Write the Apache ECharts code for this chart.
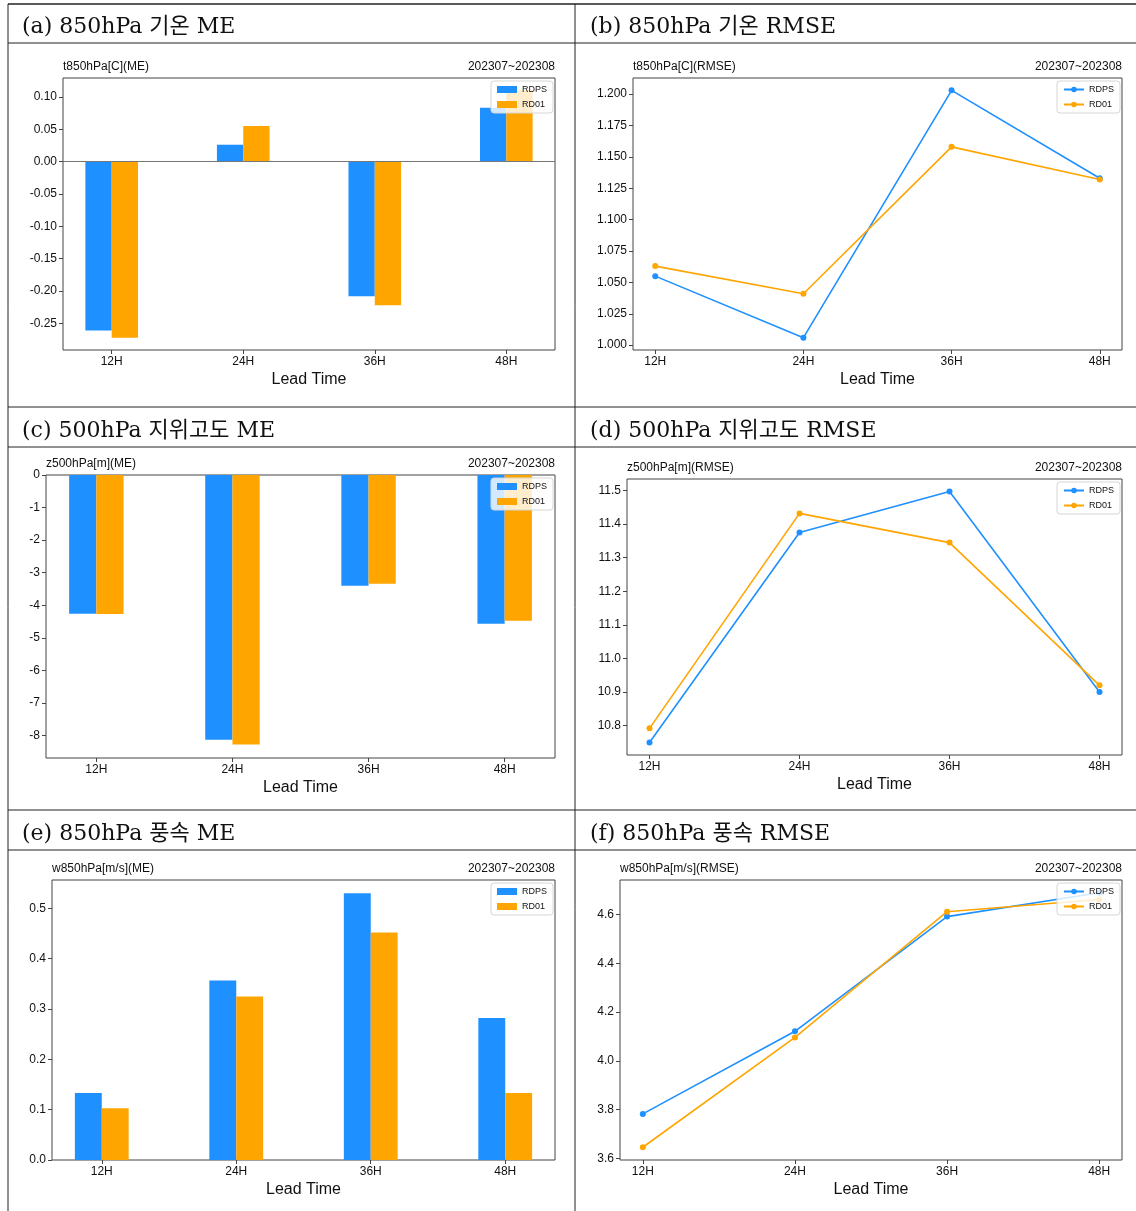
<!DOCTYPE html>
<html>
<head>
<meta charset="utf-8">
<title>RDPS / RD01 검증</title>
<script src="https://cdn.jsdelivr.net/npm/echarts@6/dist/echarts.min.js"></script>
<style>
  html, body { margin: 0; padding: 0; background: #fff; }
  #chart { width: 1136px; height: 1211px; }
</style>
</head>
<body>
<div id="chart"></div>
<script>
// Lead times (x positions 0..3)
const leadTimes = ['12H', '24H', '36H', '48H'];
const leadPos = [0, 1, 2, 3];

// (a) 850hPa temperature ME
const t850MeRdps = [-0.261, 0.026, -0.208, 0.083];
const t850MeRd01 = [-0.272, 0.055, -0.222, 0.110];
const t850MeTicks = [-0.25, -0.20, -0.15, -0.10, -0.05, 0.00, 0.05, 0.10];

// (b) 850hPa temperature RMSE
const t850RmseRdps = [1.055, 1.006, 1.203, 1.133];
const t850RmseRd01 = [1.063, 1.041, 1.158, 1.132];
const t850RmseTicks = [1.000, 1.025, 1.050, 1.075, 1.100, 1.125, 1.150, 1.175, 1.200];

// (c) 500hPa geopotential height ME
const z500MeRdps = [-4.26, -8.13, -3.40, -4.57];
const z500MeRd01 = [-4.27, -8.28, -3.34, -4.48];
const z500MeTicks = [-8, -7, -6, -5, -4, -3, -2, -1, 0];

// (d) 500hPa geopotential height RMSE
const z500RmseRdps = [10.750, 11.375, 11.497, 10.900];
const z500RmseRd01 = [10.792, 11.432, 11.345, 10.920];
const z500RmseTicks = [10.8, 10.9, 11.0, 11.1, 11.2, 11.3, 11.4, 11.5];

// (e) 850hPa wind speed ME
const w850MeRdps = [0.133, 0.357, 0.530, 0.282];
const w850MeRd01 = [0.103, 0.325, 0.452, 0.133];
const w850MeTicks = [0.0, 0.1, 0.2, 0.3, 0.4, 0.5];

// (f) 850hPa wind speed RMSE
const w850RmseRdps = [3.782, 4.121, 4.592, 4.690];
const w850RmseRd01 = [3.645, 4.096, 4.612, 4.662];
const w850RmseTicks = [3.6, 3.8, 4.0, 4.2, 4.4, 4.6];

const period = '202307~202308';
const seriesNames = ['RDPS', 'RD01'];
const colors = ['#1e90ff', '#ffa500'];

const FONT = '"Liberation Sans", Arial, Helvetica, sans-serif';
const HEAD_FONT = '22px "DejaVu Serif", "Liberation Serif", "Noto Sans CJK KR", serif';

// panel descriptions: kind, title, data, ticks, decimals, grid box, header
const panels = [
  { key: 'a', kind: 'bar',  title: 't850hPa[C](ME)',    rdps: t850MeRdps,   rd01: t850MeRd01,   ticks: t850MeTicks,   dec: 2,
    box: [63, 78, 492, 272],  head: '(a) 850hPa 기온 ME',       headPos: [22, 24] },
  { key: 'b', kind: 'line', title: 't850hPa[C](RMSE)',  rdps: t850RmseRdps, rd01: t850RmseRd01, ticks: t850RmseTicks, dec: 3,
    box: [633, 78, 489, 272], head: '(b) 850hPa 기온 RMSE',     headPos: [590, 24] },
  { key: 'c', kind: 'bar',  title: 'z500hPa[m](ME)',    rdps: z500MeRdps,   rd01: z500MeRd01,   ticks: z500MeTicks,   dec: 0,
    box: [46, 475, 509, 283], head: '(c) 500hPa 지위고도 ME',   headPos: [22, 428] },
  { key: 'd', kind: 'line', title: 'z500hPa[m](RMSE)',  rdps: z500RmseRdps, rd01: z500RmseRd01, ticks: z500RmseTicks, dec: 1,
    box: [627, 479, 495, 276], head: '(d) 500hPa 지위고도 RMSE', headPos: [590, 428] },
  { key: 'e', kind: 'bar',  title: 'w850hPa[m/s](ME)',  rdps: w850MeRdps,   rd01: w850MeRd01,   ticks: w850MeTicks,   dec: 1,
    box: [52, 880, 503, 280], head: '(e) 850hPa 풍속 ME',       headPos: [22, 831] },
  { key: 'f', kind: 'line', title: 'w850hPa[m/s](RMSE)', rdps: w850RmseRdps, rd01: w850RmseRd01, ticks: w850RmseTicks, dec: 1,
    box: [620, 880, 502, 280], head: '(f) 850hPa 풍속 RMSE',     headPos: [590, 831] }
];

const W = 1136;

// Axis limits with 5% padding; bar charts stick to the zero baseline
function limits(p) {
  const all = p.rdps.concat(p.rd01);
  let lo = Math.min(...all), hi = Math.max(...all);
  if (p.kind === 'bar') {
    const dlo = Math.min(lo, 0), dhi = Math.max(hi, 0);
    const m = (dhi - dlo) * 0.05;
    lo = dlo < 0 ? dlo - m : 0;
    hi = dhi > 0 ? dhi + m : 0;
    return [lo, hi];
  }
  const m = (hi - lo) * 0.05;
  return [lo - m, hi + m];
}

const grids = [], xAxes = [], yAxes = [], series = [], legends = [], titles = [], graphics = [];

panels.forEach((p, i) => {
  const [gl, gt, gw, gh] = p.box;
  grids.push({ left: gl, top: gt, width: gw, height: gh, show: true, borderColor: '#444', borderWidth: 1, backgroundColor: 'transparent' });

  const xPad = p.kind === 'bar' ? 0.37 : 0.15;
  xAxes.push({
    type: 'value', gridIndex: i, min: -xPad, max: 3 + xPad, position: 'bottom',
    axisLine: { show: false, onZero: false },
    splitLine: { show: false },
    axisTick: { show: true, customValues: leadPos, length: 4, lineStyle: { color: '#444' } },
    axisLabel: { show: true, customValues: leadPos, margin: 6, fontSize: 12, color: '#111', fontFamily: FONT,
                 formatter: v => leadTimes[Math.round(v)] },
    name: 'Lead Time', nameLocation: 'middle', nameGap: 22,
    nameTextStyle: { fontSize: 16, color: '#111', fontFamily: FONT }
  });

  const [ymin, ymax] = limits(p);
  yAxes.push({
    type: 'value', gridIndex: i, min: ymin, max: ymax, position: 'left',
    axisLine: { show: false, onZero: false },
    splitLine: { show: false },
    axisTick: { show: true, customValues: p.ticks, length: 4, lineStyle: { color: '#444' } },
    axisLabel: { show: true, customValues: p.ticks, margin: 6, fontSize: 12, color: '#111', fontFamily: FONT,
                 formatter: v => Number(v).toFixed(p.dec) }
  });

  const sets = [p.rdps, p.rd01];
  sets.forEach((vals, s) => {
    const name = seriesNames[s] + '#' + p.key;
    const data = leadPos.map((x, k) => [x, vals[k]]);
    if (p.kind === 'bar') {
      const off = s === 0 ? -0.1 : 0.1;
      const ser = {
        type: 'custom', name, xAxisIndex: i, yAxisIndex: i, data,
        itemStyle: { color: colors[s] },
        clip: true,
        renderItem: (params, api) => {
          const x = api.value(0), v = api.value(1);
          const a = api.coord([x + off - 0.1, 0]);
          const b = api.coord([x + off + 0.1, v]);
          return {
            type: 'rect',
            shape: { x: a[0], y: Math.min(a[1], b[1]), width: b[0] - a[0], height: Math.abs(b[1] - a[1]) },
            style: { fill: colors[s] }
          };
        }
      };
      if (s === 0 && ymin < 0 && ymax > 0) {
        ser.markLine = {
          silent: true, symbol: 'none', label: { show: false },
          lineStyle: { color: '#777', width: 1, type: 'solid' },
          data: [{ yAxis: 0 }]
        };
      }
      series.push(ser);
    } else {
      series.push({
        type: 'line', name, xAxisIndex: i, yAxisIndex: i, data,
        symbol: 'circle', symbolSize: 6,
        itemStyle: { color: colors[s] },
        lineStyle: { color: colors[s], width: 1.6 }
      });
    }
  });

  const legendRight = W - (gl + gw) + 2;
  legends.push({
    orient: 'vertical', right: legendRight, top: gt + 3,
    data: seriesNames.map(n => p.kind === 'bar' ? { name: n + '#' + p.key, icon: 'rect' } : { name: n + '#' + p.key }),
    formatter: n => n.split('#')[0],
    itemWidth: 20, itemHeight: 7, itemGap: 6,
    padding: [4, 6, 4, 6],
    backgroundColor: 'rgba(255,255,255,0.8)',
    borderColor: '#d6d6d6', borderWidth: 1, borderRadius: 3,
    textStyle: { fontSize: 9, color: '#111', fontFamily: FONT },
    selectedMode: false
  });

  titles.push({
    text: p.title, left: gl, top: gt - 17, padding: 0,
    textStyle: { fontSize: 12, fontWeight: 'normal', color: '#111', fontFamily: FONT }
  });
  titles.push({
    text: period, right: W - (gl + gw), top: gt - 17, padding: 0,
    textStyle: { fontSize: 12, fontWeight: 'normal', color: '#111', fontFamily: FONT }
  });

  graphics.push({
    type: 'text', x: p.headPos[0], y: p.headPos[1] + 3,
    style: { text: p.head, font: HEAD_FONT, fill: '#111', verticalAlign: 'middle' }
  });
});

// table rules around the panels
const hRules = [[4, 1.6], [43, 1], [407, 1], [447, 1], [810, 1], [850, 1]];
hRules.forEach(([y, w]) => graphics.push({
  type: 'line', shape: { x1: 8, y1: y, x2: W, y2: y }, style: { stroke: '#222', lineWidth: w }
}));
[8, 575].forEach(x => graphics.push({
  type: 'line', shape: { x1: x, y1: 4, x2: x, y2: 1211 }, style: { stroke: '#222', lineWidth: 1 }
}));

const chart = echarts.init(document.getElementById('chart'), null, { renderer: 'canvas' });
chart.setOption({
  animation: false,
  backgroundColor: '#fff',
  textStyle: { fontFamily: FONT },
  title: titles,
  legend: legends,
  grid: grids,
  xAxis: xAxes,
  yAxis: yAxes,
  series: series,
  graphic: graphics
});
</script>
</body>
</html>
